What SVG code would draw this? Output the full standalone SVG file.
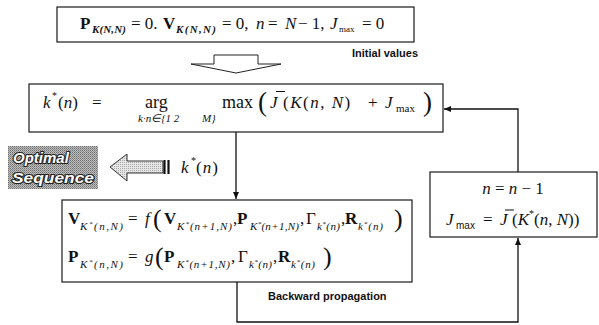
<svg xmlns="http://www.w3.org/2000/svg" width="599" height="325" viewBox="0 0 599 325">
<defs>
<style>
.m{font-family:"Liberation Serif","Times New Roman",serif;font-size:17px;fill:#111}
.i{font-style:italic}
.b{font-weight:bold}
.s{font-family:"Liberation Serif","Times New Roman",serif;font-size:11px;font-style:italic;fill:#111}
.lbl{font-family:"Liberation Sans",Arial,sans-serif;font-weight:bold;font-size:11px;fill:#111}
.box{fill:#fff;stroke:#1a1a1a;stroke-width:1.2}
.conn{fill:none;stroke:#111;stroke-width:1.3}
.bar{stroke:#111;stroke-width:1}
.big{font-size:26px}
.opt{font-family:"Liberation Sans",Arial,sans-serif;font-weight:bold;font-style:italic;font-size:15px;fill:#fff;stroke:#222;stroke-width:2.2;paint-order:stroke;stroke-linejoin:round}
</style>
<marker id="ah" markerWidth="8" markerHeight="8" refX="7" refY="4" orient="auto" markerUnits="userSpaceOnUse"><path d="M0,1 L7,4 L0,7 Z" fill="#111"/></marker>
<pattern id="dots" width="2" height="2" patternUnits="userSpaceOnUse"><rect width="2" height="2" fill="#bdbdbd"/><rect width="1" height="1" fill="#6e6e6e"/><rect x="1" y="1" width="1" height="1" fill="#8f8f8f"/></pattern>
<pattern id="lite" width="2" height="2" patternUnits="userSpaceOnUse"><rect width="2" height="2" fill="#e6e6e6"/><rect width="1" height="1" fill="#a8a8a8"/></pattern>
</defs>

<g id="initial">
<rect class="box" x="57" y="7" width="357" height="35"/>
<text class="m" font-size="15">
<tspan x="80" y="29" class="b">P</tspan>
<tspan x="131" y="29">= 0.</tspan>
<tspan x="163" y="29" class="b">V</tspan>
<tspan x="222" y="29">= 0,</tspan>
<tspan x="256" y="29" class="i">n</tspan>
<tspan x="268" y="29">=</tspan>
<tspan x="285" y="29" class="i">N</tspan>
<tspan x="298" y="29">− 1,</tspan>
<tspan x="330" y="29" class="i">J</tspan>
<tspan x="339" y="32" font-size="9">max</tspan>
<tspan x="362" y="29">= 0</tspan>
</text>
<text class="s b" x="92" y="33" textLength="34">K(N,N)</text>
<text class="s b" x="176" y="33" textLength="40">K(N,N)</text>
<text class="lbl" x="418" y="57" text-anchor="end">Initial values</text>
</g>

<g id="select">
<rect class="box" x="29" y="84" width="414" height="48"/>
<text class="m" font-size="19">
<tspan x="43" y="108" class="i">k</tspan>
<tspan x="52" y="99" font-size="10">*</tspan>
<tspan x="58" y="108">(</tspan><tspan class="i">n</tspan><tspan>)</tspan>
<tspan x="92" y="108">=</tspan>
<tspan x="145" y="108" font-size="18">arg</tspan>
<tspan x="222" y="108" font-size="18">max</tspan>
<tspan x="258" y="111" font-size="27">(</tspan>
<tspan x="270" y="108" class="i">J</tspan>
<tspan x="283" y="108" letter-spacing="1.5">(<tspan class="i">K</tspan>(<tspan class="i">n</tspan>, <tspan class="i">N</tspan>)</tspan>
<tspan x="368" y="108">+</tspan>
<tspan x="385" y="108" class="i">J</tspan>
<tspan x="396" y="112" font-size="11">max</tspan>
<tspan x="423" y="111" font-size="27">)</tspan>
</text>
<line class="bar" x1="276" y1="91.5" x2="285" y2="91.5"/>
<text class="s" font-size="9" y="122"><tspan x="138">k·n∈{1 2</tspan><tspan x="202">M}</tspan></text>
</g>

<g id="optimal">
<rect x="8" y="146" width="90" height="43" fill="url(#dots)"/>
<text class="opt" x="13" y="163">Optimal</text>
<text class="opt" x="12" y="183" textLength="82" lengthAdjust="spacingAndGlyphs">Sequence</text>
</g>

<g id="kstar">
<text class="m" font-size="18" letter-spacing="1"><tspan x="181" y="173" class="i">k</tspan><tspan x="191" y="164" font-size="10">*</tspan><tspan x="196" y="173">(</tspan><tspan class="i">n</tspan><tspan>)</tspan></text>
</g>

<g id="propagate">
<rect class="box" x="62" y="200" width="350" height="82"/>
<text class="m">
<tspan x="68" y="224" class="b">V</tspan>
<tspan x="128" y="224">=</tspan>
<tspan x="145" y="224" class="i">f</tspan>
<tspan x="153" y="227" class="big">(</tspan>
<tspan x="164" y="224" class="b">V</tspan>
<tspan x="233" y="224">,</tspan>
<tspan x="237" y="224" class="b">P</tspan>
<tspan x="300" y="224">,</tspan>
<tspan x="306" y="224">Γ</tspan>
<tspan x="341" y="224">,</tspan>
<tspan x="345" y="224" class="b">R</tspan>
<tspan x="394" y="227" class="big">)</tspan>
<tspan x="68" y="262" class="b">P</tspan>
<tspan x="128" y="262">=</tspan>
<tspan x="145" y="262" class="i">g</tspan>
<tspan x="155" y="265" class="big">(</tspan>
<tspan x="164" y="262" class="b">P</tspan>
<tspan x="231" y="262">,</tspan>
<tspan x="238" y="262">Γ</tspan>
<tspan x="273" y="262">,</tspan>
<tspan x="278" y="262" class="b">R</tspan>
<tspan x="323" y="265" class="big">)</tspan>
</text>
<text class="s" x="80" y="230" textLength="43">K<tspan dy="-4" font-size="7">*</tspan><tspan dy="4">(n,N)</tspan></text>
<text class="s" x="177" y="230" textLength="55">K<tspan dy="-4" font-size="7">*</tspan><tspan dy="4">(n+1,N)</tspan></text>
<text class="s" x="250" y="230" textLength="49">K<tspan dy="-4" font-size="7">*</tspan><tspan dy="4">(n+1,N)</tspan></text>
<text class="s" x="317" y="230" textLength="23">k<tspan dy="-4" font-size="7">*</tspan><tspan dy="4">(n)</tspan></text>
<text class="s" x="358" y="230" textLength="25">k<tspan dy="-4" font-size="7">*</tspan><tspan dy="4">(n)</tspan></text>
<text class="s" x="80" y="268" textLength="43">K<tspan dy="-4" font-size="7">*</tspan><tspan dy="4">(n,N)</tspan></text>
<text class="s" x="177" y="268" textLength="53">K<tspan dy="-4" font-size="7">*</tspan><tspan dy="4">(n+1,N)</tspan></text>
<text class="s" x="249" y="268" textLength="23">k<tspan dy="-4" font-size="7">*</tspan><tspan dy="4">(n)</tspan></text>
<text class="s" x="291" y="268" textLength="24">k<tspan dy="-4" font-size="7">*</tspan><tspan dy="4">(n)</tspan></text>
<text class="lbl" x="268" y="300">Backward propagation</text>
</g>

<g id="update">
<rect class="box" x="430" y="172" width="167" height="65"/>
<text class="m" x="513" y="194" text-anchor="middle"><tspan class="i">n</tspan> = <tspan class="i">n</tspan> − 1</text>
<text class="m">
<tspan x="446" y="225" class="i">J</tspan>
<tspan x="456" y="229" font-family="Liberation Sans, Arial, sans-serif" font-size="10">max</tspan>
<tspan x="483" y="225">=</tspan>
<tspan x="500" y="225" class="i">J</tspan>
<tspan x="512" y="225">(</tspan><tspan class="i">K</tspan><tspan dy="-8" font-size="10">*</tspan><tspan dy="8">(</tspan><tspan class="i">n</tspan><tspan>, </tspan><tspan class="i">N</tspan><tspan>))</tspan>
</text>
<line class="bar" x1="505" y1="210" x2="514" y2="210"/>
</g>

<g id="connectors">
<polygon points="214,55 258,55 258,64 281,64 236,73 191,64 214,64" fill="#fff" stroke="#222" stroke-width="1"/>
<polygon points="110,167 127,154 127,161 163,161 163,173 127,173 127,181" fill="url(#lite)" stroke="#333" stroke-width="1"/>
<path d="M164.5 160V174M168.5 160V174" stroke="#111" stroke-width="2.2"/>
<path class="conn" d="M236 132V199" marker-end="url(#ah)"/>
<path class="conn" d="M518 172V109H444" marker-end="url(#ah)"/>
<path class="conn" d="M237 282V322H518V238" marker-end="url(#ah)"/>
</g>
</svg>
